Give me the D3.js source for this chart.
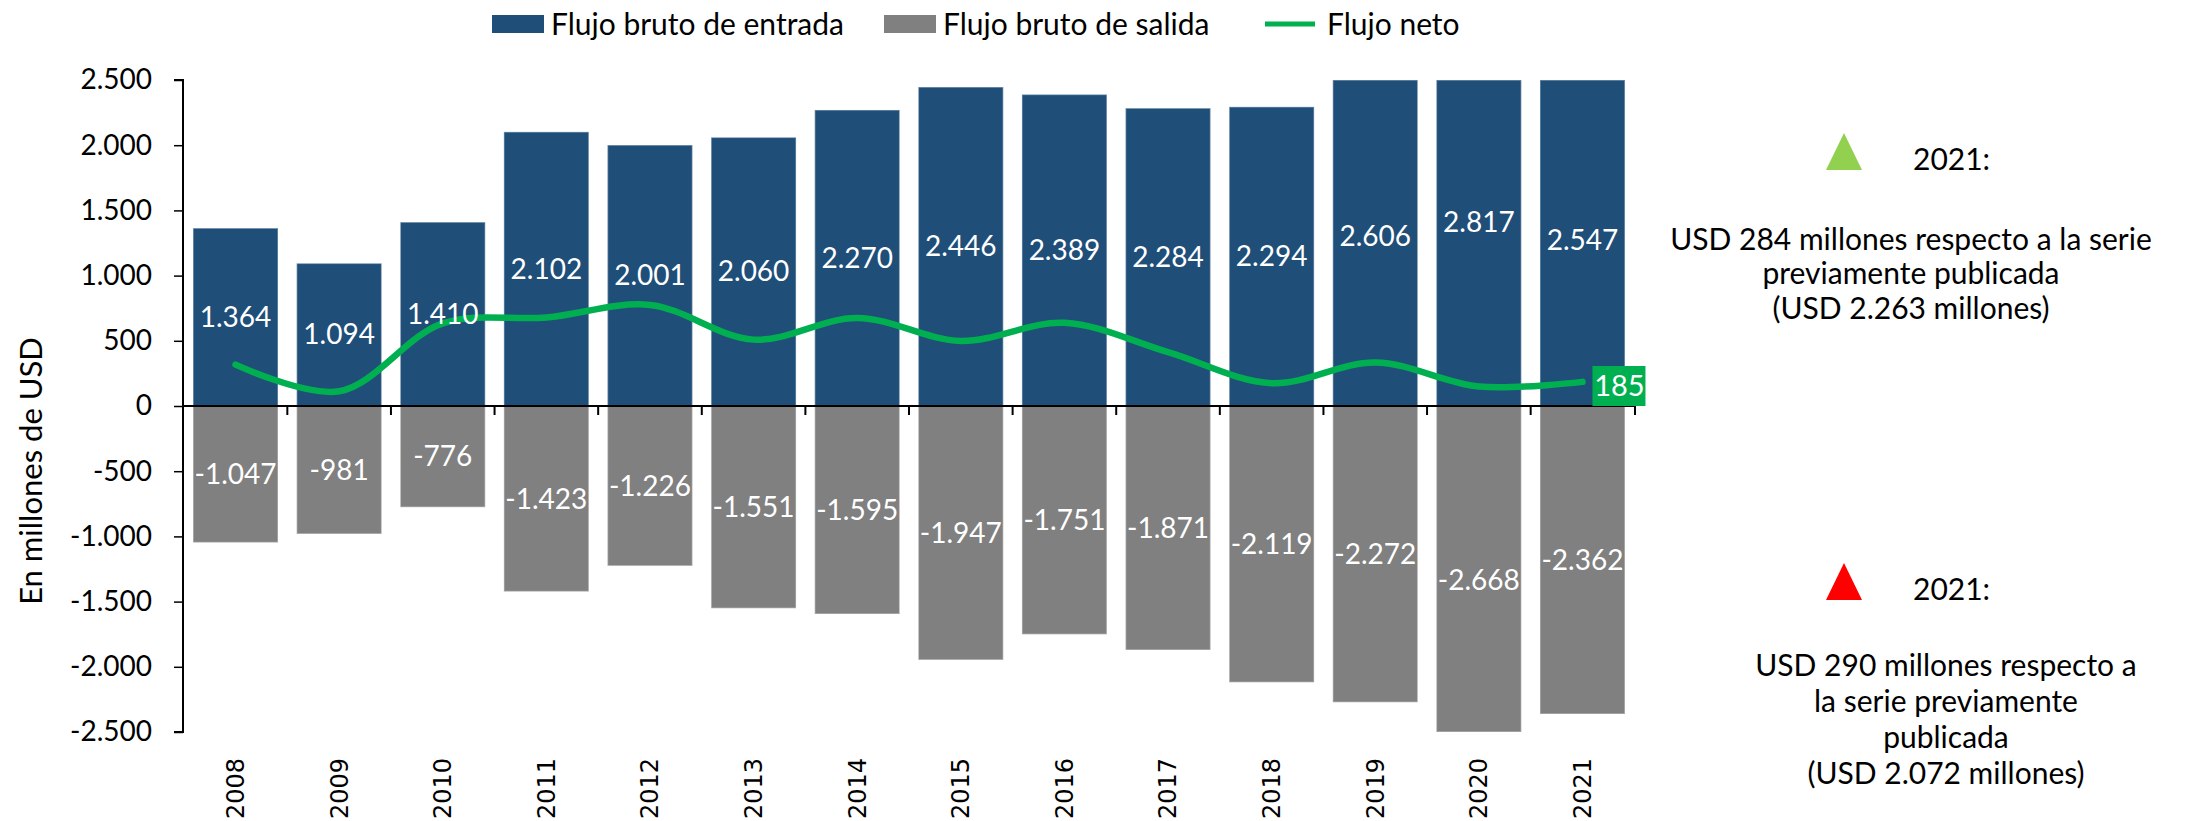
<!DOCTYPE html>
<html>
<head>
<meta charset="utf-8">
<script src="https://cdn.jsdelivr.net/npm/d3@7"></script>
<style>
  body { margin: 0; background: #fff; }
  text { font-family: Lato, "Open Sans", sans-serif; }
</style>
</head>
<body>
<svg id="chart" width="2190" height="821"></svg>
<script>
// data
var years   = ["2008","2009","2010","2011","2012","2013","2014","2015","2016","2017","2018","2019","2020","2021"];
var inflow  = [1364, 1094, 1410, 2102, 2001, 2060, 2270, 2446, 2389, 2284, 2294, 2606, 2817, 2547];
var outflow = [-1047, -981, -776, -1423, -1226, -1551, -1595, -1947, -1751, -1871, -2119, -2272, -2668, -2362];
var netflow = [317, 113, 634, 679, 775, 509, 675, 499, 638, 413, 175, 334, 149, 185];
var yTicks  = [2500, 2000, 1500, 1000, 500, 0, -500, -1000, -1500, -2000, -2500];
var seriesNames = ["Flujo bruto de entrada", "Flujo bruto de salida", "Flujo neto"];
var noteUp   = ["USD 284 millones respecto a la serie", "previamente publicada", "(USD 2.263 millones)"];
var noteDown = ["USD 290 millones respecto a", "la serie previamente", "publicada", "(USD 2.072 millones)"];

var BLUE = "#1f4e79", GRAY = "#808080", GREEN = "#00b050";

var svg = d3.select("#chart");

var esLocale = d3.formatLocale({decimal: ",", thousands: ".", grouping: [3], currency: ["", ""], minus: "-"});
var fmt = esLocale.format(",");

var x0 = 183, x1 = 1635;
var x = d3.scaleBand().domain(years).range([x0, x1]).paddingInner(0.18).paddingOuter(0.097);
var y = d3.scaleLinear().domain([-2500, 2500]).range([732, 80]).clamp(true);

var rows = years.map((yr, i) => ({yr: yr, inf: inflow[i], out: outflow[i], net: netflow[i]}));

// bars (values past the axis limits are cut at the frame, like the original)
svg.append("g").selectAll("rect").data(rows).enter().append("rect")
    .attr("x", d => x(d.yr)).attr("width", x.bandwidth())
    .attr("y", d => y(d.inf)).attr("height", d => y(0) - y(d.inf))
    .attr("fill", BLUE).attr("stroke", "rgba(255,255,255,0.35)").attr("stroke-width", 1.5);
svg.append("g").selectAll("rect").data(rows).enter().append("rect")
    .attr("x", d => x(d.yr)).attr("width", x.bandwidth())
    .attr("y", y(0)).attr("height", d => y(d.out) - y(0))
    .attr("fill", GRAY).attr("stroke", "rgba(255,255,255,0.35)").attr("stroke-width", 1.5);

// axes
svg.append("g")
    .attr("transform", `translate(${x0},0)`)
    .call(d3.axisLeft(y).tickValues(yTicks).tickFormat(fmt).tickSize(9).tickPadding(22))
    .call(g => g.selectAll("text").style("font-size", "28px").attr("fill", "#000"))
    .call(g => g.selectAll(".tick line").attr("stroke-width", 1.5))
    .call(g => g.select(".domain").attr("stroke-width", 2).attr("d", "M-9,80H0V732H-9"));

var xAxis = svg.append("g").attr("transform", `translate(0,${y(0)})`);
xAxis.append("line").attr("x1", x0).attr("x2", x1).attr("stroke", "#000").attr("stroke-width", 2);
xAxis.selectAll("line.tk").data(years.slice(1).concat(["end"])).enter().append("line")
    .attr("class", "tk")
    .attr("x1", d => d == "end" ? x1 : x(d) - x.step() * x.paddingInner() / 2)
    .attr("x2", d => d == "end" ? x1 : x(d) - x.step() * x.paddingInner() / 2)
    .attr("y1", 0).attr("y2", 9).attr("stroke", "#000").attr("stroke-width", 2);

// year labels
svg.append("g").selectAll("text").data(years).enter().append("text")
    .attr("transform", d => `translate(${x(d) + x.bandwidth() / 2},758) rotate(-90)`)
    .attr("text-anchor", "end").attr("dy", "0.35em")
    .style("font-family", "'DejaVu Sans', sans-serif").style("font-size", "24px")
    .text(d => d);

// y title
svg.append("text")
    .attr("transform", "translate(31,471) rotate(-90)")
    .attr("text-anchor", "middle").attr("dy", "0.35em")
    .style("font-size", "31px").text("En millones de USD");

// net line
var line = d3.line().x(d => x(d.yr) + x.bandwidth() / 2).y(d => y(d.net)).curve(d3.curveCatmullRom.alpha(0.5));
svg.append("path").datum(rows).attr("d", line)
    .attr("fill", "none").attr("stroke", GREEN).attr("stroke-width", 6.5).attr("stroke-linecap", "round");

// data labels, centred on the full (unclipped) bar
svg.append("g").selectAll("text").data(rows).enter().append("text")
    .attr("x", d => x(d.yr) + x.bandwidth() / 2).attr("y", d => y(d.inf / 2))
    .attr("text-anchor", "middle").attr("dy", "0.35em")
    .attr("fill", "#fff").style("font-size", "28px")
    .text(d => fmt(d.inf));
svg.append("g").selectAll("text").data(rows).enter().append("text")
    .attr("x", d => x(d.yr) + x.bandwidth() / 2).attr("y", d => y(d.out / 2))
    .attr("text-anchor", "middle").attr("dy", "0.35em")
    .attr("fill", "#fff").style("font-size", "28px")
    .text(d => fmt(d.out));

// last net value tag
var last = rows[rows.length - 1];
var lx = x(last.yr) + x.bandwidth() / 2 + 10;
svg.append("rect").attr("x", lx).attr("y", y(0) - 40).attr("width", 53).attr("height", 40).attr("fill", GREEN);
svg.append("text").attr("x", lx + 27).attr("y", y(0) - 20).attr("text-anchor", "middle").attr("dy", "0.35em")
    .attr("fill", "#fff").style("font-size", "29px").text(last.net);

// legend
var legend = svg.append("g").attr("transform", "translate(0,24)");
var lg = [{x: 492, c: BLUE, t: "rect"}, {x: 884, c: GRAY, t: "rect"}, {x: 1265, c: GREEN, t: "line"}];
lg.forEach((d, i) => {
  if (d.t == "rect") legend.append("rect").attr("x", d.x).attr("y", -9).attr("width", 52).attr("height", 18).attr("fill", d.c);
  else legend.append("line").attr("x1", d.x).attr("x2", d.x + 50).attr("stroke", d.c).attr("stroke-width", 5);
  legend.append("text").attr("x", d.x + (d.t == "rect" ? 59 : 62)).attr("dy", "0.35em")
      .style("font-size", "30px").text(seriesNames[i]);
});

// side notes
function note(top, color, lines, cx, ly0, gap) {
  svg.append("path").attr("d", `M1844,${top}L1862,${top + 37}L1826,${top + 37}Z`).attr("fill", color);
  svg.append("text").attr("x", 1913).attr("y", top + 26).attr("dy", "0.35em")
      .style("font-size", "30px").text("2021:");
  svg.append("g").selectAll("text").data(lines).enter().append("text")
      .attr("x", cx).attr("y", (d, i) => ly0 + i * gap).attr("dy", "0.35em")
      .attr("text-anchor", "middle").style("font-size", "30px").text(d => d);
}
note(133, "#92d050", noteUp, 1911, 239, 34.5);
note(563, "#ff0000", noteDown, 1946, 665, 36);
</script>
</body>
</html>
